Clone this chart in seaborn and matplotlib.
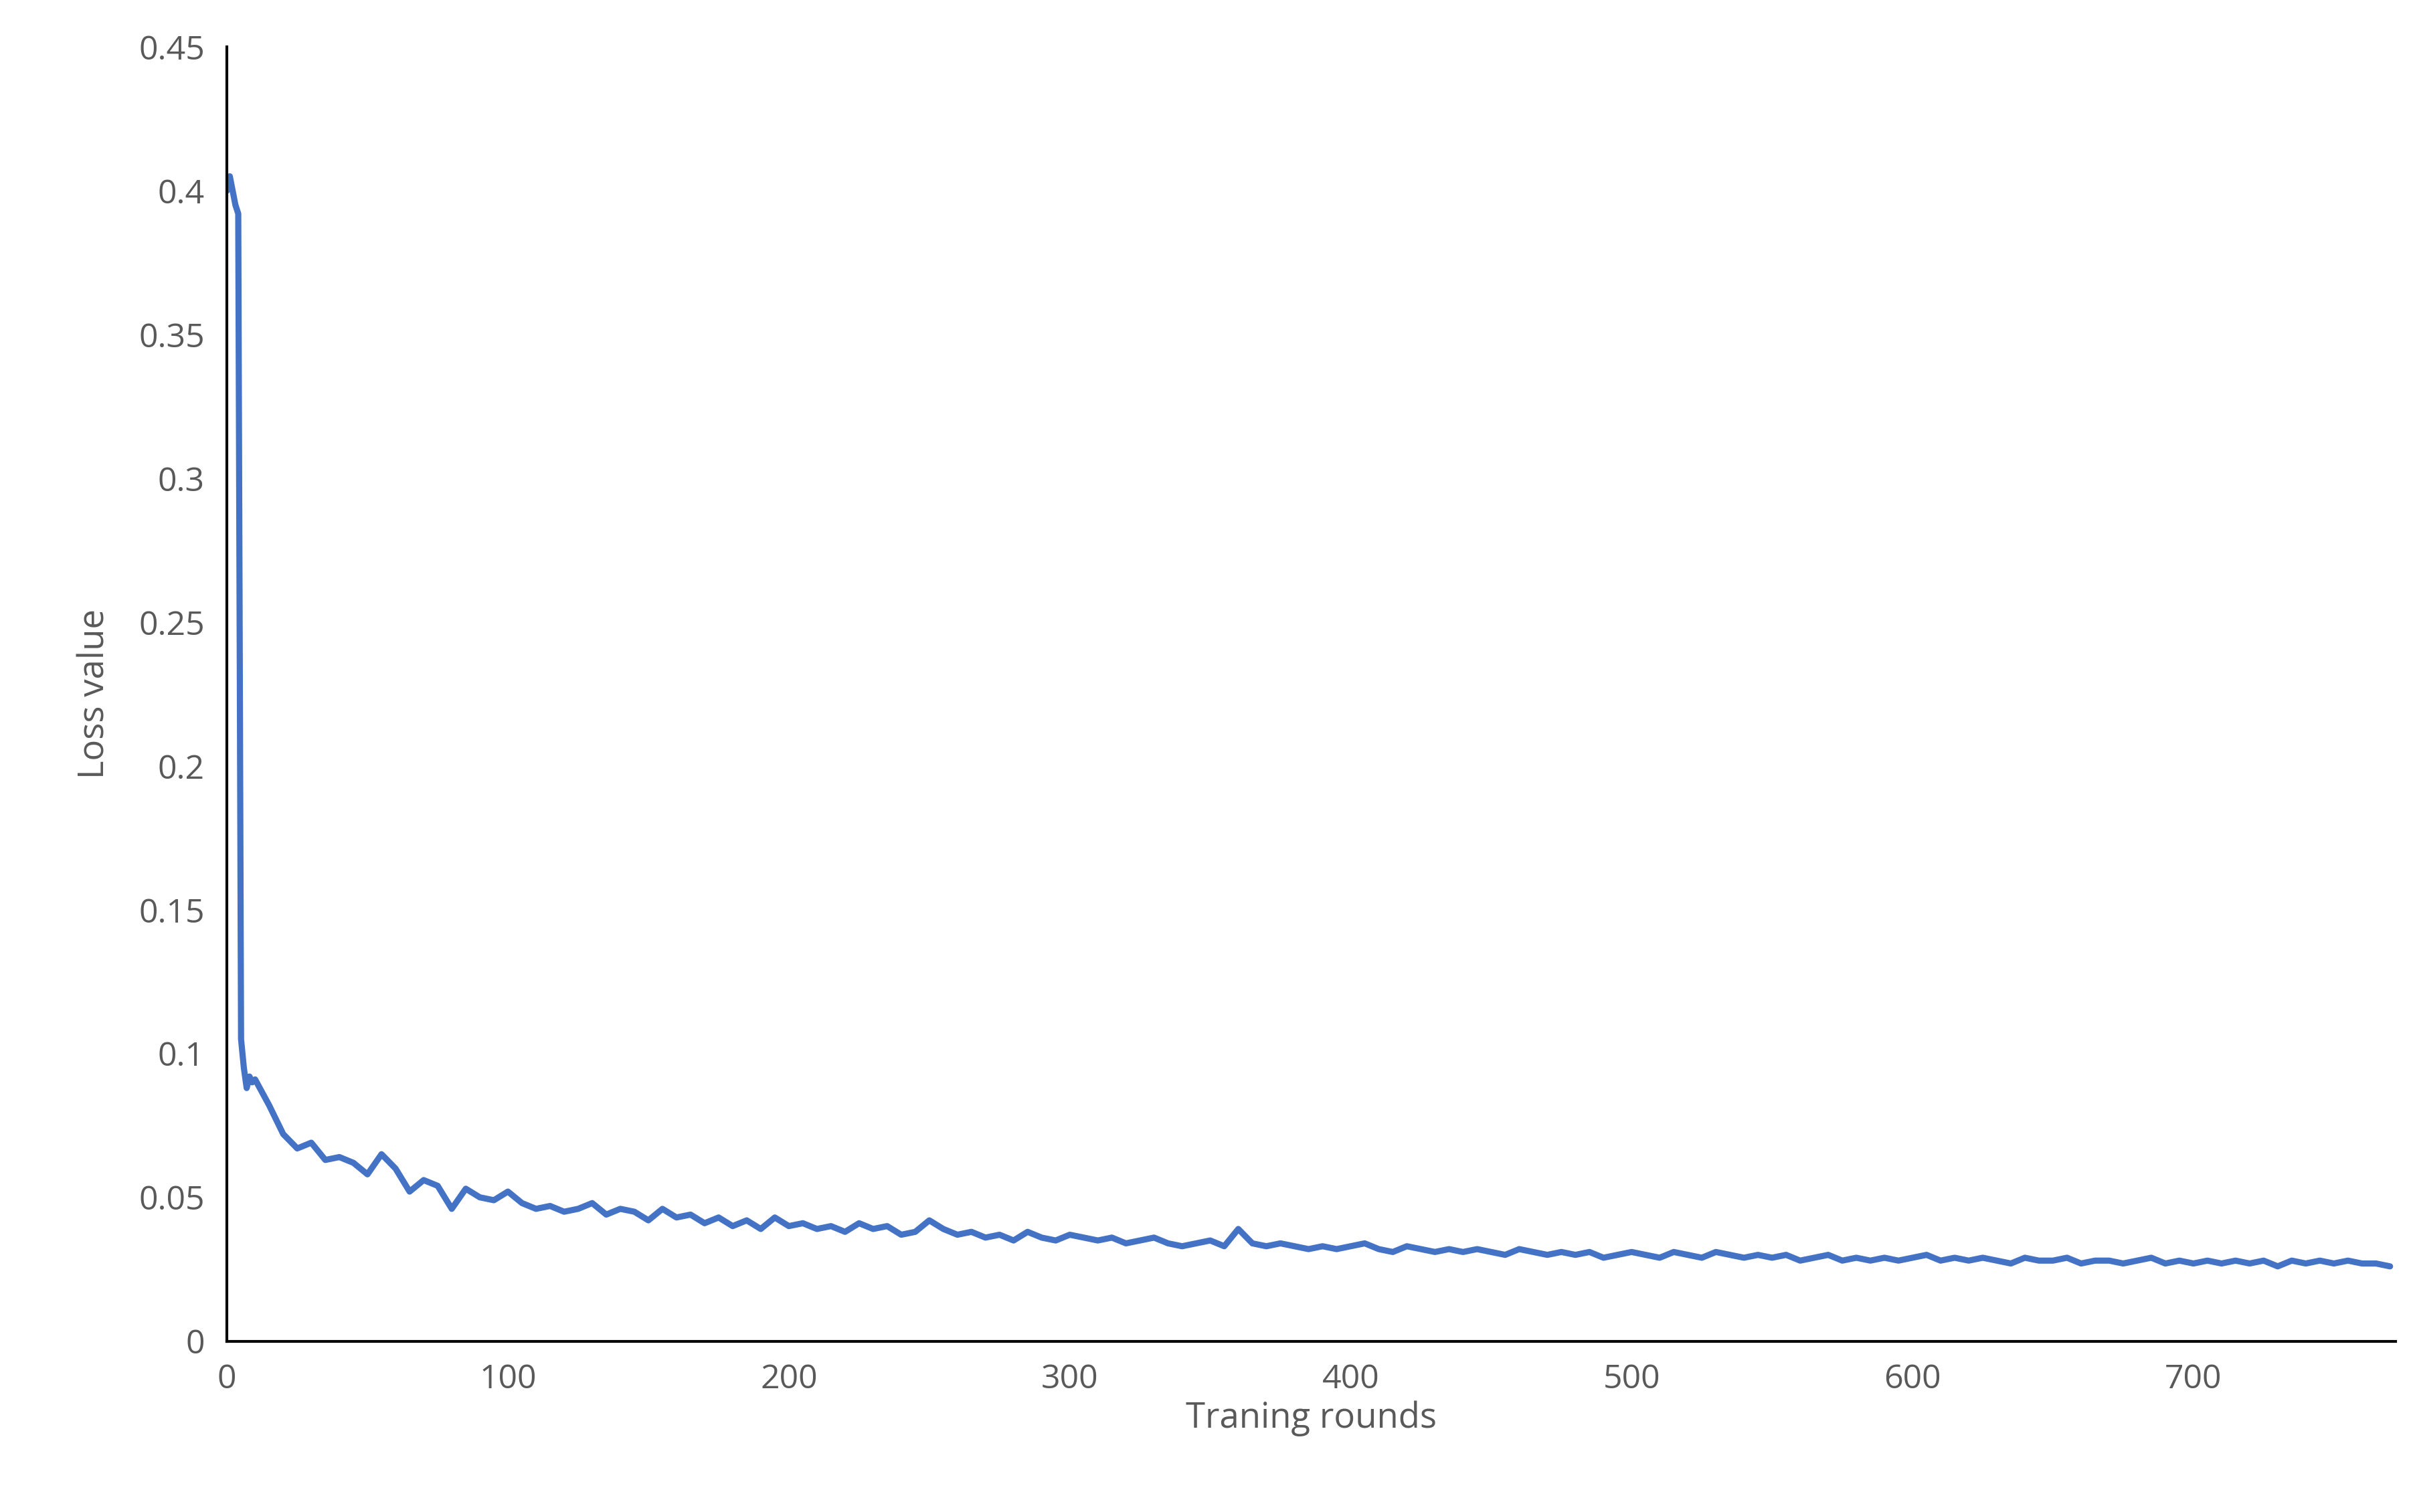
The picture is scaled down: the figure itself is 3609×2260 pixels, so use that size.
import pandas as pd
import matplotlib.pyplot as plt
import seaborn as sns

sns.set_theme(style="white")
plt.rcParams['font.family'] = ['Open Sans', 'DejaVu Sans']

# Loss curve
early_rounds = [0, 1, 2, 3, 4, 5, 6, 7, 8, 9]
early_loss = [0.400, 0.405, 0.400, 0.395, 0.392, 0.105, 0.095, 0.088, 0.092, 0.090]
late_rounds = list(range(10, 771, 5))
late_loss = [
    0.091, 0.082, 0.072, 0.067, 0.069, 0.063, 0.064, 0.062, 0.058, 0.065, 0.060, 0.052,
    0.056, 0.054, 0.046, 0.053, 0.050, 0.049, 0.052, 0.048, 0.046, 0.047, 0.045, 0.046,
    0.048, 0.044, 0.046, 0.045, 0.042, 0.046, 0.043, 0.044, 0.041, 0.043, 0.040, 0.042,
    0.039, 0.043, 0.040, 0.041, 0.039, 0.040, 0.038, 0.041, 0.039, 0.040, 0.037, 0.038,
    0.042, 0.039, 0.037, 0.038, 0.036, 0.037, 0.035, 0.038, 0.036, 0.035, 0.037, 0.036,
    0.035, 0.036, 0.034, 0.035, 0.036, 0.034, 0.033, 0.034, 0.035, 0.033, 0.039, 0.034,
    0.033, 0.034, 0.033, 0.032, 0.033, 0.032, 0.033, 0.034, 0.032, 0.031, 0.033, 0.032,
    0.031, 0.032, 0.031, 0.032, 0.031, 0.030, 0.032, 0.031, 0.030, 0.031, 0.030, 0.031,
    0.029, 0.030, 0.031, 0.030, 0.029, 0.031, 0.030, 0.029, 0.031, 0.030, 0.029, 0.030,
    0.029, 0.030, 0.028, 0.029, 0.030, 0.028, 0.029, 0.028, 0.029, 0.028, 0.029, 0.030,
    0.028, 0.029, 0.028, 0.029, 0.028, 0.027, 0.029, 0.028, 0.028, 0.029, 0.027, 0.028,
    0.028, 0.027, 0.028, 0.029, 0.027, 0.028, 0.027, 0.028, 0.027, 0.028, 0.027, 0.028,
    0.026, 0.028, 0.027, 0.028, 0.027, 0.028, 0.027, 0.027, 0.026,
]

df = pd.DataFrame({"round": early_rounds + late_rounds, "loss": early_loss + late_loss})

fig, ax = plt.subplots(figsize=(18.045, 11.3), dpi=200)
fig.subplots_adjust(left=0.094, right=0.992, top=0.969, bottom=0.113)

sns.lineplot(data=df, x="round", y="loss", color="#4472C4", linewidth=3.3, ax=ax)

ax.set_xlim(0, 772)
ax.set_ylim(0, 0.45)
ax.set_xticks(range(0, 701, 100))
ax.set_yticks([0, 0.05, 0.1, 0.15, 0.2, 0.25, 0.3, 0.35, 0.4, 0.45])
ax.set_yticklabels(["0", "0.05", "0.1", "0.15", "0.2", "0.25", "0.3", "0.35", "0.4", "0.45"])
ax.set_xlabel("Traning rounds", fontsize=19, color="#595959", labelpad=2)
ax.set_ylabel("Loss value", fontsize=19, color="#595959", labelpad=14)
ax.tick_params(axis="both", labelsize=18, labelcolor="#595959", length=0, pad=12)

for side in ["top", "right"]:
    ax.spines[side].set_visible(False)
for side in ["left", "bottom"]:
    ax.spines[side].set_color("black")
    ax.spines[side].set_linewidth(1.5)

fig.savefig("out.png", dpi=200)
